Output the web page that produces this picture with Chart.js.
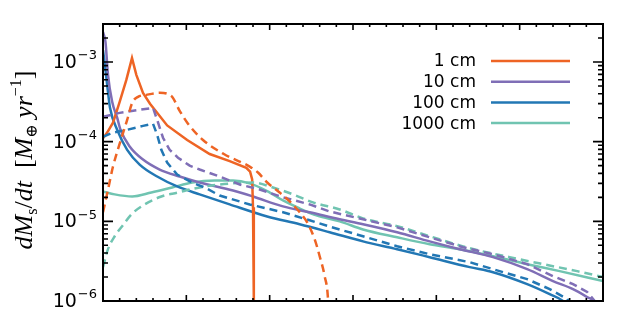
<!DOCTYPE html>
<html>
<head>
<meta charset="utf-8">
<script src="https://cdn.jsdelivr.net/npm/chart.js@4.4.1/dist/chart.umd.min.js"></script>
<style>
  html, body { margin: 0; padding: 0; background: #fff; }
  #wrap { width: 641px; height: 311px; }
</style>
</head>
<body>
<div id="wrap"><canvas id="c" width="641" height="311"></canvas></div>
<script>
// ---- data (x axis is unlabelled in the original; plotted on a 0..6 scale) ----
var sizeLabels = ['1 cm', '10 cm', '100 cm', '1000 cm'];
var sizeColors = ['#EE6424', '#7F6EB6', '#2277B4', '#70C4B1'];

var x1Solid = [0, 0.05, 0.12, 0.20, 0.28, 0.348, 0.40, 0.48, 0.564, 0.77, 1.01, 1.28, 1.52, 1.72, 1.765, 1.79, 1.80, 1.81, 1.825];
var y1Solid = [1.1e-4, 1.3e-4, 1.73e-4, 3.16e-4, 5.96e-4, 1.12e-3, 6.9e-4, 4.1e-4, 3.0e-4, 1.6e-4, 1.05e-4, 7.0e-5, 5.7e-5, 4.7e-5, 4.2e-5, 3.35e-5, 1.5e-5, 1e-6, 1e-7];
var x1Dash = [0, 0.06, 0.12, 0.204, 0.29, 0.35, 0.42, 0.52, 0.68, 0.82, 0.92, 1.02, 1.20, 1.45, 1.76, 1.86, 1.97, 2.12, 2.24, 2.36, 2.45, 2.54, 2.60, 2.66, 2.70, 2.74];
var y1Dash = [1.3e-5, 2.5e-5, 4.87e-5, 9.7e-5, 1.88e-4, 3.07e-4, 3.65e-4, 3.87e-4, 4.1e-4, 3.75e-4, 2.44e-4, 1.68e-4, 1.05e-4, 7.0e-5, 4.87e-5, 4.1e-5, 3.07e-5, 2.3e-5, 1.78e-5, 1.3e-5, 9.7e-6, 5.96e-6, 3.65e-6, 2.05e-6, 1.06e-6, 1e-7];

var x10Solid = [0, 0.03, 0.06, 0.11, 0.17, 0.21, 0.32, 0.48, 0.68, 0.92, 1.16, 1.56, 1.80, 2.16, 2.48, 2.84, 3.12, 3.53, 3.92, 4.28, 4.68, 5.09, 5.40, 5.64, 5.81, 5.90, 6.0];
var y10Solid = [2.37e-3, 1.78e-3, 6.9e-4, 3.16e-4, 2.0e-4, 1.41e-4, 8.7e-5, 5.96e-5, 4.47e-5, 3.65e-5, 3.07e-5, 2.44e-5, 2.05e-5, 1.54e-5, 1.3e-5, 1.06e-5, 9.2e-6, 7.3e-6, 5.6e-6, 4.47e-6, 3.55e-6, 2.51e-6, 1.78e-6, 1.41e-6, 1.12e-6, 9.7e-7, 6e-7];
var x10Dash = [0, 0.2, 0.44, 0.60, 0.65, 0.72, 0.80, 0.90, 1.04, 1.16, 1.40, 1.64, 1.88, 2.16, 2.48, 2.72, 3.12, 3.53, 3.92, 4.32, 4.68, 5.09, 5.40, 5.64, 5.81, 5.90, 5.95];
var y10Dash = [2.05e-4, 2.3e-4, 2.51e-4, 2.66e-4, 1.88e-4, 1.12e-4, 7.9e-5, 6.3e-5, 5.0e-5, 4.47e-5, 3.65e-5, 2.9e-5, 2.51e-5, 2.0e-5, 1.63e-5, 1.33e-5, 1.06e-5, 8.4e-6, 6.3e-6, 4.73e-6, 3.87e-6, 2.9e-6, 2.05e-6, 1.63e-6, 1.3e-6, 1.0e-6, 8e-7];

var x100Solid = [0, 0.03, 0.06, 0.084, 0.17, 0.29, 0.44, 0.65, 0.89, 1.16, 1.52, 1.97, 2.36, 2.72, 3.12, 3.53, 3.92, 4.40, 4.68, 5.09, 5.36, 5.52, 5.60];
var y100Solid = [1.41e-3, 7.9e-4, 4.2e-4, 2.66e-4, 1.41e-4, 7.9e-5, 5.16e-5, 3.65e-5, 2.74e-5, 2.18e-5, 1.63e-5, 1.15e-5, 9.2e-6, 7.3e-6, 5.6e-6, 4.47e-6, 3.55e-6, 2.66e-6, 2.3e-6, 1.63e-6, 1.22e-6, 1.0e-6, 8e-7];
var x100Dash = [0, 0.12, 0.29, 0.48, 0.60, 0.65, 0.70, 0.77, 0.89, 1.07, 1.22, 1.40, 1.76, 2.16, 2.48, 2.72, 3.12, 3.53, 3.92, 4.40, 4.68, 5.09, 5.36, 5.57, 5.65];
var y100Dash = [1.15e-4, 1.3e-4, 1.41e-4, 1.58e-4, 1.68e-4, 1.22e-4, 7.9e-5, 5.46e-5, 3.87e-5, 3.07e-5, 2.66e-5, 2.11e-5, 1.63e-5, 1.3e-5, 1.03e-5, 8.6e-6, 6.5e-6, 4.87e-6, 3.87e-6, 3.07e-6, 2.51e-6, 1.88e-6, 1.41e-6, 1.06e-6, 8e-7];

var x1000Solid = [0, 0.14, 0.35, 0.58, 0.83, 1.07, 1.34, 1.56, 1.76, 1.97, 2.16, 2.36, 2.57, 2.84, 3.12, 3.53, 3.92, 4.28, 4.68, 5.09, 5.48, 6.0];
var y1000Solid = [2.37e-5, 2.18e-5, 2.05e-5, 2.3e-5, 2.66e-5, 3.07e-5, 3.25e-5, 3.25e-5, 3.0e-5, 2.4e-5, 1.83e-5, 1.45e-5, 1.18e-5, 1.0e-5, 7.9e-6, 6.3e-6, 5.16e-6, 4.47e-6, 3.65e-6, 2.9e-6, 2.37e-6, 1.78e-6];
var x1000Dash = [0, 0.06, 0.14, 0.23, 0.35, 0.50, 0.70, 0.90, 1.10, 1.40, 1.80, 2.04, 2.28, 2.52, 2.84, 3.12, 3.53, 3.92, 4.40, 4.88, 5.28, 5.69, 6.0];
var y1000Dash = [2.66e-6, 4.47e-6, 6.5e-6, 8.7e-6, 1.25e-5, 1.63e-5, 2.05e-5, 2.3e-5, 2.59e-5, 2.9e-5, 3.07e-5, 2.66e-5, 2.18e-5, 1.73e-5, 1.41e-5, 1.09e-5, 8.7e-6, 6.5e-6, 4.6e-6, 3.55e-6, 2.9e-6, 2.37e-6, 2.0e-6];

var yTickValues = [1e-3, 1e-4, 1e-5, 1e-6];
var yTickExps = ['\u22123', '\u22124', '\u22125', '\u22126'];
var xMin = 0, xMax = 6, yMin = 1e-6, yMax = 3e-3;

// ---- helpers ----
function pts(xs, ys) { return xs.map(function (x, i) { return { x: x, y: ys[i] }; }); }
function series(xs, ys, ci, dashed, smooth) {
  return {
    data: pts(xs, ys), showLine: true, pointRadius: 0,
    borderColor: sizeColors[ci], borderWidth: 2.5,
    borderDash: dashed ? [8, 5] : [], borderCapStyle: 'butt',
    tension: 0, cubicInterpolationMode: smooth ? 'monotone' : 'default'
  };
}

var SANS = '"DejaVu Sans", sans-serif';
var SERIF = '"Liberation Serif", "DejaVu Serif", serif';

function drawRuns(ctx, runs) {
  var total = 0;
  runs.forEach(function (r) { ctx.font = r.font; r.w = ctx.measureText(r.t).width; total += r.w; });
  var u = -total / 2;
  runs.forEach(function (r) { ctx.font = r.font; ctx.fillText(r.t, u, r.dy || 0); u += r.w; });
}

var frame = {
  id: 'frame',
  afterDraw: function (chart) {
    var ctx = chart.ctx, a = chart.chartArea, xs = chart.scales.x, ys = chart.scales.y;
    ctx.save();
    ctx.strokeStyle = '#000';
    ctx.lineWidth = 2;
    ctx.strokeRect(a.left, a.top, a.right - a.left, a.bottom - a.top);

    // inward ticks
    ctx.lineWidth = 1.6;
    ctx.beginPath();
    for (var i = 0; i <= 30; i++) {
      var px = xs.getPixelForValue(xMin + i * 0.2), tl = (i % 5 === 0) ? 6 : 3;
      ctx.moveTo(px, a.bottom); ctx.lineTo(px, a.bottom - tl);
      ctx.moveTo(px, a.top); ctx.lineTo(px, a.top + tl);
    }
    for (var k = -6; k <= -3; k++) {
      for (var m = 1; m <= 9; m++) {
        var val = m * Math.pow(10, k);
        if (val > yMax * 0.999) continue;
        var py = ys.getPixelForValue(val), ll = (m === 1) ? 10 : 5;
        ctx.moveTo(a.left, py); ctx.lineTo(a.left + ll, py);
        ctx.moveTo(a.right, py); ctx.lineTo(a.right - ll, py);
      }
    }
    ctx.stroke();

    // y tick labels 10^n
    ctx.fillStyle = '#000';
    ctx.textBaseline = 'middle';
    yTickValues.forEach(function (v, i) {
      var py = ys.getPixelForValue(v) + 1;
      ctx.font = '13px ' + SANS;
      var ew = ctx.measureText(yTickExps[i]).width;
      var ex = a.left - 6 - ew;
      ctx.textAlign = 'left';
      ctx.fillText(yTickExps[i], ex, py - 7);
      ctx.font = '19px ' + SANS;
      ctx.textAlign = 'right';
      ctx.fillText('10', ex - 1, py);
    });

    // legend
    sizeLabels.forEach(function (lab, i) {
      var ly = 61 + i * 20.7;
      ctx.font = '17px ' + SANS;
      ctx.textAlign = 'right';
      ctx.textBaseline = 'middle';
      ctx.fillStyle = '#000';
      ctx.fillText(lab, 476, ly + 1);
      ctx.strokeStyle = sizeColors[i];
      ctx.lineWidth = 2.5;
      ctx.beginPath(); ctx.moveTo(491, ly); ctx.lineTo(570, ly); ctx.stroke();
    });

    // y axis title
    ctx.translate(23, 160);
    ctx.rotate(-Math.PI / 2);
    ctx.textAlign = 'left';
    ctx.textBaseline = 'alphabetic';
    ctx.fillStyle = '#000';
    var it = 'italic 26px ' + SERIF, rm = '26px ' + SERIF, sm = '16px ' + SERIF;
    drawRuns(ctx, [
      { t: 'dM', font: it, dy: 9 },
      { t: 's', font: sm, dy: 14 },
      { t: '/', font: rm, dy: 9 },
      { t: 'dt', font: it, dy: 9 },
      { t: '  [', font: rm, dy: 9 },
      { t: 'M', font: it, dy: 9 },
      { t: '\u2295', font: sm, dy: 14 },
      { t: ' yr', font: it, dy: 9 },
      { t: '\u22121', font: sm, dy: -2 },
      { t: ']', font: rm, dy: 9 }
    ]);
    ctx.restore();
  }
};

new Chart(document.getElementById('c'), {
  type: 'scatter',
  data: {
    datasets: [
      series(x1Dash, y1Dash, 0, true, true),
      series(x10Dash, y10Dash, 1, true, false),
      series(x100Dash, y100Dash, 2, true, false),
      series(x1000Dash, y1000Dash, 3, true, true),
      series(x1Solid, y1Solid, 0, false, false),
      series(x10Solid, y10Solid, 1, false, true),
      series(x100Solid, y100Solid, 2, false, true),
      series(x1000Solid, y1000Solid, 3, false, true)
    ]
  },
  options: {
    responsive: false, animation: false, devicePixelRatio: 1,
    layout: { padding: { left: 103, right: 38, top: 24, bottom: 10 } },
    plugins: { legend: { display: false }, tooltip: { enabled: false } },
    scales: {
      x: { type: 'linear', min: xMin, max: xMax, display: false },
      y: { type: 'logarithmic', min: yMin, max: yMax, display: false }
    }
  },
  plugins: [frame]
});
</script>
</body>
</html>
